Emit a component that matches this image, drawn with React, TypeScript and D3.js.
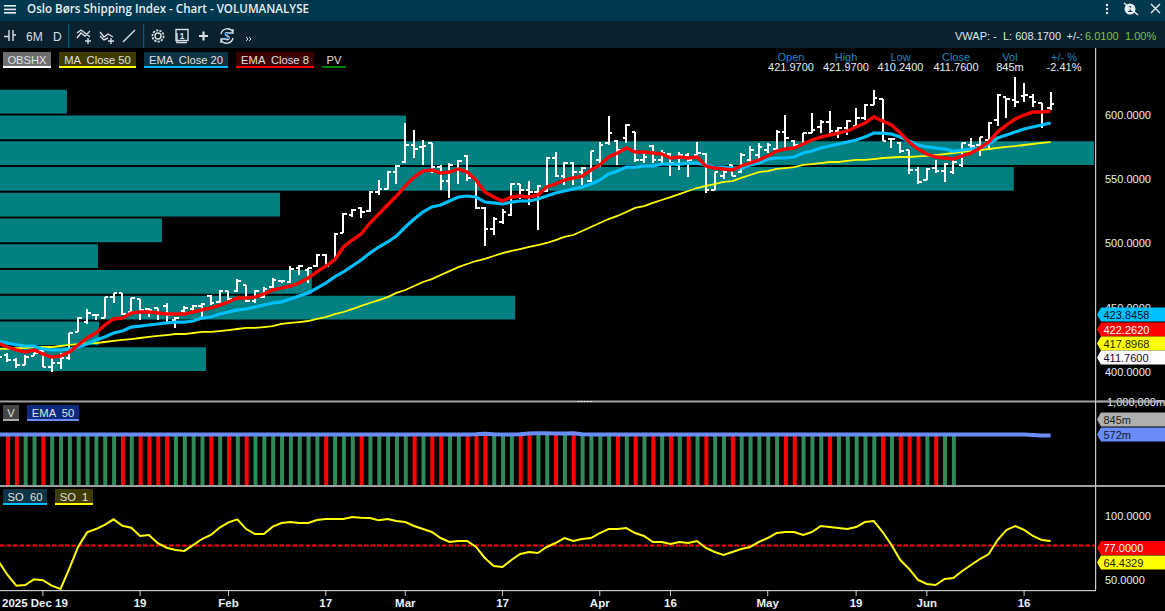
import * as React from 'react'
import * as d3 from 'd3'

const width = 1165
const height = 611

// first entry of each price series is the bar just off the left edge (the one the header reads)
const opens = [
  421.97, 413.2, 409.3, 405.4, 412.4, 416.3, 403.9, 407.0, 410.9, 431.1,
  438.8, 444.3, 441.9, 458.2, 461.4, 446.6, 456.7, 448.9, 449.7, 451.3,
  440.4, 447.4, 448.9, 451.3, 459.0, 454.4, 462.9, 462.9, 467.6, 455.1,
  458.2, 466.0, 470.7, 469.9, 480.8, 479.2, 482.3, 490.9, 486.2, 507.9,
  521.9, 527.4, 525.0, 539.8, 542.1, 555.3, 563.1, 576.3, 574.8, 577.9,
  559.2, 548.3, 556.9, 567.8, 549.9, 527.4, 511.1, 516.5, 521.9, 546.0,
  541.4, 539.8, 540.6, 566.2, 552.2, 562.3, 555.3, 548.3, 564.7, 577.9,
  579.4, 581.7, 586.4, 564.7, 575.5, 564.7, 569.3, 560.8, 568.5, 568.5,
  569.3, 541.4, 552.2, 560.8, 555.3, 564.7, 568.5, 572.4, 573.2, 586.4,
  579.4, 576.3, 585.6, 590.3, 594.2, 587.2, 589.5, 591.1, 597.3, 607.4,
  612.0, 581.0, 577.9, 572.4, 556.9, 549.1, 558.4, 556.1, 555.3, 560.8,
  576.3, 576.3, 580.2, 595.7, 613.6, 611.3, 614.4, 613.6, 608.9, 605.0,
]
const highs = [
  421.97, 414.8, 410.9, 413.2, 414.8, 417.1, 410.9, 414.8, 430.3, 442.7,
  448.9, 445.0, 458.2, 461.4, 461.4, 457.5, 456.7, 449.7, 449.7, 453.6,
  442.7, 451.3, 452.0, 453.6, 459.8, 463.7, 462.9, 472.2, 467.6, 463.7,
  466.0, 473.0, 471.5, 482.3, 483.1, 480.8, 491.6, 491.6, 507.9, 523.5,
  526.6, 528.2, 540.6, 549.1, 556.1, 560.8, 593.4, 588.0, 580.2, 577.9,
  560.8, 562.3, 564.7, 568.5, 550.7, 528.2, 520.4, 526.6, 546.8, 546.0,
  548.3, 545.2, 567.0, 570.9, 563.1, 563.1, 559.2, 571.6, 578.6, 598.8,
  580.2, 592.6, 586.4, 570.1, 576.3, 572.4, 570.1, 570.9, 570.1, 578.6,
  570.1, 555.3, 559.2, 560.8, 570.1, 575.5, 577.9, 577.9, 588.0, 599.6,
  580.2, 585.6, 601.2, 595.7, 602.7, 590.3, 595.7, 605.0, 608.2, 619.0,
  612.0, 581.7, 578.6, 572.4, 559.2, 558.4, 564.7, 562.3, 564.7, 577.9,
  581.7, 582.5, 594.2, 615.9, 612.8, 629.1, 624.5, 615.9, 608.9, 617.5,
]
const lows = [
  410.24, 407.8, 403.1, 405.4, 412.4, 403.9, 400.0, 402.3, 409.3, 431.1,
  437.3, 440.4, 441.9, 453.6, 444.3, 446.6, 440.4, 442.7, 440.4, 438.8,
  434.2, 445.8, 446.6, 442.7, 452.0, 453.6, 453.6, 462.1, 454.4, 453.6,
  457.5, 465.2, 469.1, 469.1, 475.3, 469.1, 481.5, 481.5, 486.2, 507.9,
  520.4, 519.6, 524.3, 537.5, 542.1, 546.0, 562.3, 566.2, 560.8, 554.6,
  541.4, 535.1, 546.0, 548.3, 526.6, 497.9, 506.4, 514.9, 521.2, 534.4,
  529.7, 510.3, 539.8, 551.4, 545.2, 545.2, 545.2, 547.6, 559.2, 576.3,
  560.8, 577.9, 563.1, 562.3, 562.3, 562.3, 552.2, 556.9, 551.4, 566.2,
  539.0, 541.4, 549.9, 552.2, 554.6, 560.0, 563.9, 570.1, 572.4, 574.0,
  573.2, 576.3, 585.6, 585.6, 585.6, 581.7, 584.1, 590.3, 595.7, 607.4,
  579.4, 574.0, 570.1, 553.8, 546.0, 549.1, 554.6, 547.6, 553.8, 559.2,
  570.1, 567.8, 572.4, 591.1, 597.3, 605.8, 609.7, 605.8, 589.5, 603.5,
]
const closes = [
  411.76, 409.3, 405.4, 411.6, 414.8, 403.9, 407.0, 410.9, 430.3, 441.9,
  445.8, 444.5, 458.2, 461.4, 445.0, 457.5, 448.2, 448.2, 445.0, 444.3,
  441.9, 449.7, 451.3, 452.8, 453.6, 462.9, 456.7, 470.7, 455.1, 462.9,
  464.5, 471.5, 470.9, 480.0, 482.3, 480.8, 490.9, 482.3, 507.2, 522.7,
  525.8, 524.3, 539.8, 542.1, 555.3, 560.0, 576.3, 573.2, 575.5, 559.2,
  548.3, 560.8, 563.9, 550.7, 527.4, 511.1, 518.8, 524.3, 546.0, 541.4,
  539.8, 544.5, 566.2, 552.2, 562.3, 555.3, 558.4, 571.6, 576.3, 585.6,
  572.4, 591.8, 564.7, 567.0, 564.7, 570.1, 562.3, 568.5, 564.7, 570.1,
  541.4, 555.3, 555.1, 552.2, 568.5, 572.4, 574.8, 576.3, 586.4, 581.7,
  576.3, 585.6, 588.0, 594.2, 587.2, 589.5, 594.9, 597.3, 607.4, 612.8,
  579.4, 581.2, 571.6, 556.9, 547.6, 557.7, 556.1, 561.5, 563.1, 577.9,
  575.5, 582.5, 593.4, 615.1, 612.0, 609.7, 615.1, 609.7, 602.2, 608.17,
]

const ema8 = [
  422.26, 419.4, 417.1, 415.5, 417.1, 414.0, 411.6, 412.4, 415.5, 421.0,
  426.4, 430.3, 436.5, 441.2, 441.9, 445.8, 446.6, 446.6, 445.8, 445.0,
  445.0, 445.0, 446.6, 448.2, 449.7, 452.0, 454.4, 457.5, 457.5, 458.2,
  460.6, 463.7, 465.2, 466.8, 469.1, 473.0, 477.7, 482.3, 487.0, 497.1,
  502.5, 507.2, 515.7, 522.7, 529.7, 536.7, 544.5, 551.4, 556.1, 556.9,
  554.6, 555.3, 557.7, 555.3, 549.1, 539.8, 535.9, 532.8, 535.9, 536.7,
  535.9, 537.5, 543.7, 546.0, 549.1, 550.7, 552.2, 556.9, 560.8, 567.0,
  570.1, 574.0, 570.9, 570.9, 570.1, 569.3, 566.2, 567.0, 566.2, 567.0,
  560.0, 558.4, 557.7, 556.9, 560.0, 562.3, 564.7, 567.8, 571.6, 573.2,
  574.0, 577.1, 580.2, 582.5, 584.1, 585.6, 587.2, 590.3, 593.4, 598.1,
  594.9, 591.8, 585.6, 578.6, 573.2, 569.3, 567.0, 566.2, 565.4, 567.8,
  570.1, 574.0, 578.6, 586.4, 591.8, 596.5, 599.6, 601.9, 601.9, 602.7,
]
const ema20 = [
  423.85, 422.5, 421.0, 420.2, 420.2, 417.9, 417.1, 417.1, 417.9, 419.4,
  421.7, 424.9, 427.2, 430.3, 431.8, 434.9, 435.7, 436.5, 437.3, 438.1,
  438.8, 438.8, 439.6, 441.9, 442.7, 445.0, 446.6, 448.2, 448.9, 450.5,
  452.0, 453.6, 454.4, 456.7, 459.0, 461.4, 465.2, 469.1, 473.8, 477.7,
  482.3, 487.0, 492.4, 497.1, 501.0, 505.6, 512.6, 518.8, 524.3, 528.2,
  529.7, 532.8, 535.9, 536.7, 535.9, 532.0, 531.3, 530.5, 532.0, 532.8,
  532.8, 534.4, 536.7, 539.0, 540.6, 542.1, 543.7, 546.0, 549.1, 553.8,
  556.1, 559.2, 559.2, 560.0, 560.0, 561.5, 561.5, 561.5, 562.3, 562.3,
  560.8, 559.2, 559.2, 558.4, 558.4, 560.8, 562.3, 565.4, 566.2, 566.2,
  567.0, 570.1, 571.6, 574.0, 575.5, 577.1, 578.6, 580.2, 582.5, 585.6,
  585.6, 584.8, 582.5, 579.4, 576.3, 574.8, 574.0, 573.2, 571.6, 572.4,
  573.2, 574.0, 577.1, 581.7, 584.1, 586.4, 588.7, 590.3, 591.8, 593.4,
]
const ma50 = [
  417.9, 417.9, 418.6, 418.6, 419.4, 419.4, 419.4, 420.2, 421.0, 421.7,
  422.5, 422.5, 423.3, 424.1, 424.9, 425.6, 426.4, 427.2, 428.0, 428.7,
  429.5, 429.5, 430.3, 431.1, 431.1, 431.8, 432.6, 433.4, 434.2, 434.2,
  434.9, 435.7, 437.3, 438.1, 438.8, 439.6, 441.2, 442.7, 445.0, 446.6,
  448.9, 451.3, 453.6, 455.9, 458.2, 461.4, 463.7, 466.8, 469.9, 472.2,
  475.3, 478.4, 481.5, 483.9, 486.2, 487.8, 490.1, 492.4, 494.0, 495.5,
  497.1, 498.6, 500.2, 502.5, 504.9, 506.4, 509.5, 512.6, 515.7, 518.8,
  521.2, 524.3, 527.4, 528.9, 531.3, 533.6, 535.9, 538.2, 540.6, 542.9,
  544.5, 546.0, 547.6, 548.3, 550.7, 553.0, 555.3, 556.1, 557.7, 558.4,
  559.2, 560.8, 561.5, 562.3, 563.1, 563.1, 563.9, 564.7, 564.7, 565.4,
  566.2, 566.6, 567.0, 567.0, 567.4, 567.8, 568.5, 569.3, 570.1, 570.9,
  571.6, 572.4, 573.2, 574.0, 574.8, 575.5, 576.3, 577.1, 577.9, 578.6,
]

// volume at price, one bin per 20 index points from 400 upward
const pvBinStart = [400, 420, 440, 460, 480, 500, 520, 540, 560, 580, 600]
const pvVolume = [11.3, 5.43, 28.25, 17.1, 5.37, 8.88, 15.36, 55.6, 60, 22.27, 3.67]

const volumes = [
  570, 568, 571, 569, 572, 570, 568, 571, 572, 569,
  570, 571, 568, 570, 572, 569, 571, 570, 568, 572,
  570, 569, 571, 568, 570, 572, 571, 569, 570, 568,
  571, 572, 570, 569, 571, 570, 568, 572, 569, 571,
  570, 568, 571, 570, 569, 572, 570, 568, 571, 569,
  572, 570, 571, 568, 570, 569, 572, 571, 570, 568,
  569, 571, 570, 572, 568, 570, 571, 569, 572, 570,
  568, 571, 569, 570, 572, 571, 568, 570, 569, 571,
  570, 572, 568, 569, 571, 570, 572, 568, 570, 571,
  569, 570, 572, 568, 571, 569, 570, 572, 571, 568,
  570, 569, 571, 572, 570, 568, 571, 570,
]
const volumeDownBars = [0, 1, 4, 13, 15, 16, 17, 18, 23, 25, 27, 36, 40, 46, 48, 49, 52, 53, 54, 58, 59, 62, 64, 69, 71, 73, 75, 77, 79, 82, 88, 89, 93, 99, 101, 102, 103, 105]
const volumeEma = [
  572, 572, 572, 572, 572, 572, 572, 572, 572, 572,
  572, 572, 572, 572, 572, 572, 572, 572, 572, 572,
  572, 572, 572, 572, 572, 572, 572, 572, 572, 572,
  572, 572, 572, 572, 572, 572, 572, 572, 572, 572,
  572, 572, 572, 572, 572, 572, 572, 572, 572, 572,
  572, 572, 572, 572, 574, 580, 574, 572, 572, 576,
  584, 586, 586, 584, 584, 586, 576, 572, 572, 572,
  572, 572, 572, 572, 572, 572, 572, 572, 572, 572,
  572, 572, 572, 572, 572, 572, 572, 572, 572, 572,
  572, 572, 572, 572, 572, 572, 572, 572, 572, 572,
  572, 572, 572, 572, 572, 572, 572, 572, 572, 572,
  572, 572, 572, 572, 572, 572, 572, 566, 560, 560,
]

const stochastic = [
  64.4, 53.9, 45.6, 46.1, 50.5, 49.8, 45.6, 43.0, 59.1, 76.0,
  87.2, 89.8, 93.0, 97.4, 92.4, 90.9, 84.4, 85.2, 78.7, 75.2,
  73.4, 72.7, 77.3, 82.0, 85.2, 90.9, 95.0, 97.4, 89.8, 85.9,
  85.9, 91.7, 94.5, 95.3, 94.5, 94.5, 96.9, 97.7, 97.7, 97.7,
  99.2, 98.7, 98.4, 96.6, 97.7, 96.1, 95.3, 92.2, 89.8, 87.5,
  82.8, 79.7, 80.5, 80.5, 75.8, 67.2, 60.9, 60.2, 65.6, 70.3,
  71.9, 71.1, 75.8, 78.9, 82.8, 80.5, 82.0, 82.8, 86.7, 89.8,
  89.8, 90.6, 86.7, 84.4, 79.7, 79.7, 78.1, 79.7, 78.9, 80.5,
  75.0, 71.9, 69.5, 71.9, 74.2, 75.8, 79.7, 82.8, 86.7, 87.5,
  87.5, 85.2, 87.5, 92.2, 91.4, 90.6, 89.8, 91.4, 95.3, 96.1,
  87.5, 77.3, 65.6, 58.6, 50.0, 46.9, 46.1, 50.8, 51.6, 57.0,
  61.7, 66.4, 70.3, 81.25, 89.1, 92.2, 89.1, 84.4, 81.25, 80.5,
]

const priceTicks = [600, 550, 500, 450, 400]
const stochTicks = [100, 50]
const stochLevel = 77
const dateTickBars = [5, 16, 26, 37, 46, 57, 68, 76, 87, 97, 105, 116]
const dateLabels = ['2025 Dec 19', '19', 'Feb', '17', 'Mar', '17', 'Apr', '16', 'May', '19', 'Jun', '16']

const headerLabels = ['Open', 'High', 'Low', 'Close', 'Vol', '+/- %']
const headerValues = ['421.9700', '421.9700', '410.2400', '411.7600', '845m', '-2.41%']
const headerCenters = [791, 846, 900.5, 956, 1010, 1064]

const priceFlags = [
  {label: '423.8458', fill: '#00bfff', text: '#001018', y: 314.5},
  {label: '422.2620', fill: '#ff0000', text: '#ffffff', y: 329.5},
  {label: '417.8968', fill: '#ffff00', text: '#222200', y: 343.5},
  {label: '411.7600', fill: '#ffffff', text: '#200030', y: 357.5},
]
const volFlags = [
  {label: '845m', fill: '#b0b0b0', text: '#1a1a1a', y: 419.5},
  {label: '572m', fill: '#6a8cf8', text: '#101830', y: 434.5},
]
const stochFlags = [
  {label: '77.0000', fill: '#ff0000', text: '#ffffff', y: 548},
  {label: '64.4329', fill: '#ffff00', text: '#222200', y: 562.5},
]

const legendTop = [
  {label: 'OBSHX', x: 3, w: 48, bg: '#6e6e6e', line: '#ffffff'},
  {label: 'MA  Close 50', x: 59, w: 77, bg: '#403c00', line: '#ffff00'},
  {label: 'EMA  Close 20', x: 144, w: 84, bg: '#0c3444', line: '#00bfff'},
  {label: 'EMA  Close 8', x: 236, w: 78, bg: '#3c0000', line: '#ff0000'},
  {label: 'PV', x: 322, w: 24, bg: 'none', line: '#008000'},
]
const legendVol = [
  {label: 'V', x: 3, w: 16, bg: '#444444', line: '#aaaaaa'},
  {label: 'EMA  50', x: 27, w: 52, bg: '#0c2a80', line: '#6a8cf8'},
]
const legendStoch = [
  {label: 'SO  60', x: 3, w: 44, bg: '#0c3444', line: '#00bfff'},
  {label: 'SO  1', x: 55, w: 38, bg: '#403c00', line: '#ffff00'},
]

const uiFont = '"Liberation Sans", Arial, sans-serif'

const Legend = ({items, y}) => (
  <g fontFamily={uiFont} fontSize={11.2}>
    {items.map((d) => (
      <g key={d.label}>
        <rect x={d.x} y={y} width={d.w} height={14} fill={d.bg} />
        <rect x={d.x} y={y + 14} width={d.w} height={2} fill={d.line} />
        <text x={d.x + d.w / 2} y={y + 12} textAnchor="middle" fill="#e0e0e0" style={{whiteSpace: 'pre'}}>{d.label}</text>
      </g>
    ))}
  </g>
)

const Flags = ({items}) => (
  <g fontFamily={uiFont} fontSize={11}>
    {items.map((d) => (
      <g key={d.label}>
        <path d={`M1097,${d.y} L1101,${d.y - 7} H1165 V${d.y + 7} H1101 Z`} fill={d.fill} />
        <text x={1103.5} y={d.y + 4} fill={d.text}>{d.label}</text>
      </g>
    ))}
  </g>
)

const App = () => {
  const x = d3.scaleLinear().domain([0, 119]).range([-1.34, 1050.6])
  const yPrice = d3.scaleLinear().domain([400, 600]).range([372, 114.5])
  const yVol = d3.scaleLinear().domain([0, 1000]).range([486, 396])
  const yStoch = d3.scaleLinear().domain([50, 100]).range([580, 516])
  const xPv = d3.scaleLinear().domain([0, 60]).range([0, 1094])

  const priceLine = d3.line<number>().x((d, i) => x(i)).y((d) => yPrice(d))
  const volLine = d3.line<number>().x((d, i) => x(i)).y((d) => yVol(d))
  const stochLine = d3.line<number>().x((d, i) => x(i)).y((d) => yStoch(d))

  return (
    <svg
      width={width}
      height={height}
      style={{position: 'absolute', left: 0, top: 0, display: 'block', background: '#000'}}
    >
      {/* title bar */}
      <rect x={0} y={0} width={width} height={21} fill="#00384f" />
      <rect x={0} y={21} width={width} height={27} fill="#0b222e" />
      <g fill="#e8eef2">
        <rect x={4} y={5} width={12} height={1.6} />
        <rect x={4} y={8.6} width={12} height={1.6} />
        <rect x={4} y={12} width={12} height={1.6} />
      </g>
      <text x={27} y={13} fontFamily='"Open Sans", sans-serif' fontWeight={600} fontSize={11.6} fill="#e8eef2">
        Oslo Børs Shipping Index - Chart - VOLUMANALYSE
      </text>
      {/* window buttons */}
      <g fill="#e8eef2">
        <circle cx={1107} cy={5} r={1.2} />
        <circle cx={1107} cy={9} r={1.2} />
        <circle cx={1107} cy={13} r={1.2} />
        <circle cx={1130} cy={9} r={5.5} />
      </g>
      <text x={1130} y={12} textAnchor="middle" fontFamily={uiFont} fontWeight={700} fontSize={9} fill="#00384f">1</text>
      <path d="M1124,3 L1138,15" stroke="#e8eef2" strokeWidth={1.4} />
      <path d="M1151,4 L1160,13 M1160,4 L1151,13" stroke="#e8eef2" strokeWidth={1.4} />

      {/* toolbar */}
      <g stroke="#d8dfe4" fill="none" strokeWidth={1.4}>
        <path d="M4,36.5 H9 M9,30 V41 M13,30 V41 M13,35 H16 M6,30 H6" />
        <path d="M77,38 L81,33 L85,36 L90,31 M77,33 L81,30 L85,33 L90,37 M85,41 H91 M88,38 V44" />
        <path d="M100,32 L104,37 L108,34 L113,37 M100,36 L104,40 L108,38 M108,41 H114 M111,38 V44" />
        <path d="M123,42 L135,30" />
        <circle cx={158} cy={36} r={3} />
        <circle cx={158} cy={36} r={5.6} strokeWidth={1.8} strokeDasharray="2.2 1.2" />
        <path d="M177,33 V42.5 H187" />
        <rect x={176} y={29.5} width={12} height={11} />
        <path d="M199,36 H208 M203.5,31.5 V40.5" strokeWidth={2.2} />
        <path d="M221,34 A6.5,6.5 0 0 1 233,32 M233,38 A6.5,6.5 0 0 1 221,40 M233,29 V33 H229 M221,43 V39 H225" />
        <path d="M246,37 L248,39 L246,41 M249,37 L251,39 L249,41" strokeWidth={1} />
      </g>
      <text x={182} y={38.5} textAnchor="middle" fontFamily={uiFont} fontWeight={700} fontSize={9} fill="#d8dfe4">1</text>
      <text x={227} y={39.5} textAnchor="middle" fontFamily={uiFont} fontSize={10} fill="#d8dfe4">$</text>
      <g fontFamily={uiFont} fontSize={12} fill="#d8dfe4">
        <text x={26} y={41}>6M</text>
        <text x={53} y={41}>D</text>
      </g>
      <rect x={68} y={24} width={1.2} height={24} fill="#0a5a7c" />
      <rect x={143} y={24} width={1.2} height={24} fill="#0a5a7c" />
      <g fontFamily={uiFont} fontSize={11} fill="#dfe6ea">
        <text x={955} y={40}>VWAP: -</text>
        <text x={1003} y={40}>L: 608.1700</text>
        <text x={1066.5} y={40}>+/-:</text>
        <text x={1085} y={40} fill="#7cc23f">6.0100</text>
        <text x={1125} y={40} fill="#7cc23f">1.00%</text>
      </g>

      {/* price panel */}
      {pvBinStart.map((lo, i) => (
        <rect
          key={lo}
          x={0}
          y={yPrice(lo + 20) + 1}
          width={xPv(pvVolume[i])}
          height={yPrice(lo) - yPrice(lo + 20) - 2}
          fill="#008080"
        />
      ))}
      <g stroke="#ffffff" strokeWidth={2} shapeRendering="crispEdges">
        {closes.map((c, i) => (
          <g key={i}>
            <line x1={x(i)} x2={x(i)} y1={yPrice(highs[i])} y2={yPrice(lows[i])} />
            <line x1={x(i) - 3.5} x2={x(i)} y1={yPrice(opens[i])} y2={yPrice(opens[i])} />
            <line x1={x(i)} x2={x(i) + 3.5} y1={yPrice(c)} y2={yPrice(c)} />
          </g>
        ))}
      </g>
      <path d={priceLine(ma50)} fill="none" stroke="#ffff00" strokeWidth={1.8} />
      <path d={priceLine(ema20)} fill="none" stroke="#00bfff" strokeWidth={3.2} />
      <path d={priceLine(ema8)} fill="none" stroke="#ff0000" strokeWidth={3.4} />

      <Legend items={legendTop} y={52} />
      <g fontFamily={uiFont} fontSize={11} textAnchor="middle">
        {headerLabels.map((d, i) => (
          <g key={d}>
            <text x={headerCenters[i]} y={61} fill="#1e88c0">{d}</text>
            <text x={headerCenters[i]} y={71} fill="#e4eef6">{headerValues[i]}</text>
          </g>
        ))}
      </g>

      {/* volume panel: the first entry of the ema belongs to the bar off the edge */}
      {volumes.map((v, i) => (
        <rect
          key={i}
          x={x(i + 1) - 1.5}
          y={yVol(v)}
          width={4}
          height={yVol(0) - yVol(v)}
          fill={volumeDownBars.includes(i) ? '#ff0000' : '#2e8b57'}
        />
      ))}
      <path d={volLine(volumeEma)} fill="none" stroke="#6a8cf8" strokeWidth={4} />
      <Legend items={legendVol} y={405} />

      {/* stochastic panel */}
      <line x1={0} x2={1095} y1={yStoch(stochLevel)} y2={yStoch(stochLevel)} stroke="#ff0000" strokeWidth={2} strokeDasharray="4.5 2" />
      <path d={stochLine(stochastic)} fill="none" stroke="#ffff00" strokeWidth={2} />
      <Legend items={legendStoch} y={489} />

      {/* separators and axes */}
      <rect x={0} y={400.5} width={width} height={2} fill="#a0a0a0" />
      <rect x={0} y={485} width={width} height={2} fill="#a0a0a0" />
      <line x1={578} x2={592} y1={401.5} y2={401.5} stroke="#ffffff" strokeDasharray="1.5 1.5" />
      <rect x={1095} y={48} width={1.2} height={542} fill="#c8c8c8" />
      <rect x={0} y={590} width={1096} height={1.2} fill="#c8c8c8" />

      <g fontFamily={uiFont} fontSize={11} fill="#e8f0f6">
        {priceTicks.map((t) => (
          <text key={t} x={1105} y={yPrice(t) + 4}>{d3.format('.4f')(t)}</text>
        ))}
        {stochTicks.map((t) => (
          <text key={t} x={1105} y={yStoch(t) + 4}>{d3.format('.4f')(t)}</text>
        ))}
        <text x={1107} y={406}>1,000,000m</text>
      </g>
      <Flags items={priceFlags} />
      <Flags items={volFlags} />
      <Flags items={stochFlags} />
      <rect x={1097} y={400.5} width={68} height={2} fill="#a0a0a0" opacity={0.7} />

      <g fontFamily={uiFont} fontWeight={700} fontSize={11.5} fill="#e8f0f6">
        {dateTickBars.map((b, i) => (
          <g key={b}>
            <line x1={x(b)} x2={x(b)} y1={590} y2={596} stroke="#c8c8c8" />
            <text
              x={i === 0 ? 2 : x(b)}
              y={607}
              textAnchor={i === 0 ? 'start' : 'middle'}
            >
              {dateLabels[i]}
            </text>
          </g>
        ))}
      </g>
    </svg>
  )
}

export default App
